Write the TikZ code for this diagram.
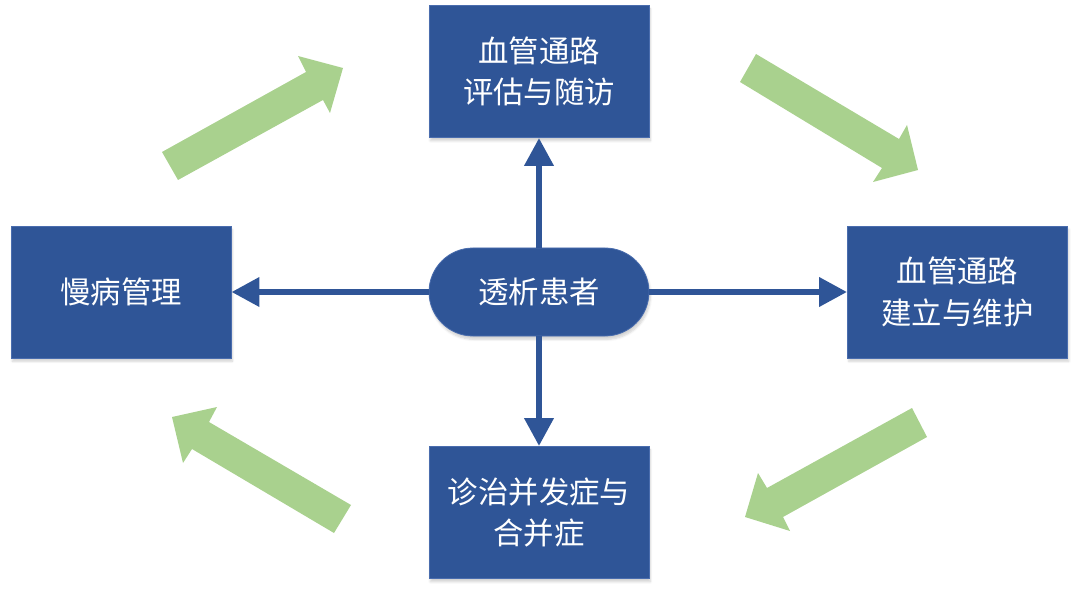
\documentclass[tikz,border=0pt]{standalone}
\usepackage{fontspec}
\newfontfamily\cjk{Noto Sans CJK SC}
\usetikzlibrary{arrows.meta,shadows.blur}
\definecolor{boxblue}{HTML}{2F5597}
\definecolor{boxedge}{HTML}{4A6DAE}
\definecolor{arrgreen}{HTML}{A9D18E}
\begin{document}
\begin{tikzpicture}[x=0.75pt,y=-0.75pt,
  box/.style={draw=boxedge,line width=0.6pt,fill=boxblue,text=white,
    minimum width=165pt,minimum height=99pt,inner sep=0pt,align=center,
    font=\cjk\fontsize{22.8pt}{31pt}\selectfont,
    blur shadow={shadow blur steps=6,shadow xshift=1pt,shadow yshift=-2.5pt,shadow opacity=18}},
  pill/.style={box,minimum height=66pt,rounded corners=33pt},
  conn/.style={draw=boxblue,line width=5pt,-{Triangle[width=21pt,length=21pt]}},
  garrow/.style={fill=arrgreen,draw=none}]
\useasboundingbox (0,0) rectangle (1080,598);
% green block arrows
\fill[garrow] (162,152) -- (306,72) -- (298,56) -- (343,68) -- (330,113) -- (323,100) -- (178,180) -- cycle;
\fill[garrow] (756,54) -- (899,139) -- (907,125) -- (918,170) -- (873,182) -- (882,168) -- (740,82) -- cycle;
\fill[garrow] (912,408) -- (767,488) -- (758,473) -- (745,517) -- (790,531) -- (783,517) -- (927,437) -- cycle;
\fill[garrow] (351,505) -- (209,422) -- (217,407) -- (172,417) -- (183,463) -- (192,449) -- (334,533) -- cycle;
% nodes
\node[box] (top) at (539,71.5) {血管通路\\评估与随访};
\node[box] (right) at (957.5,292) {血管通路\\建立与维护};
\node[box] (bottom) at (539,512.5) {诊治并发症与\\合并症};
\node[box] (left) at (121,292) {慢病管理};
\node[pill] (c) at (539,292) {透析患者};
% connectors
\draw[conn] (c.north) -- (top.south);
\draw[conn] (c.south) -- (bottom.north);
\draw[conn] (c.west) -- (left.east);
\draw[conn] (c.east) -- (right.west);
\end{tikzpicture}
\end{document}
